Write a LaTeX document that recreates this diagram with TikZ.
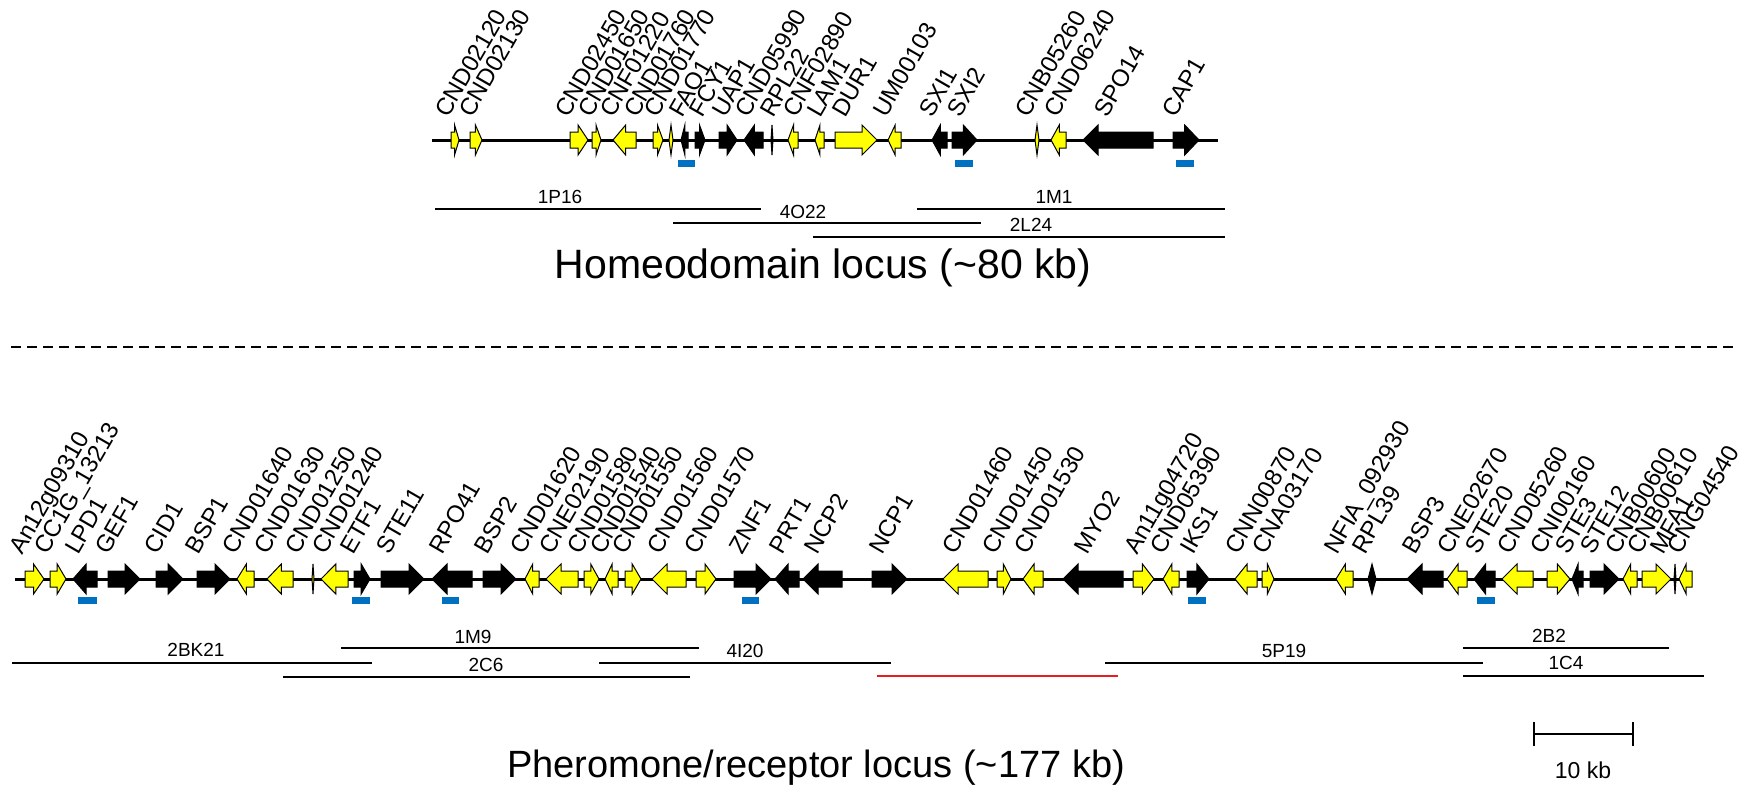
\documentclass[tikz,border=0pt]{standalone}
\usepackage{fontspec}
\setmainfont{Liberation Sans}
\usepackage{xcolor}
\usepackage{tikz}
\usetikzlibrary{positioning}
\definecolor{geneyellow}{RGB}{255,255,0}
\definecolor{probeblue}{RGB}{0,112,192}
\definecolor{linered}{RGB}{230,30,30}
\tikzset{
    ygene/.style = {fill=geneyellow, draw=black, line width=0.5pt},
    bgene/.style = {fill=black, draw=black, line width=0.5pt},
    glabel/.style = {rotate=60, anchor=base west, inner sep=0pt, font=\fontsize{12}{14}\selectfont},
    clabel/.style = {inner sep=0pt, font=\fontsize{9.5}{11}\selectfont},
    clone/.style = {line width=1pt},
    backbone/.style = {line width=1.5pt},
    probe/.style = {fill=probeblue, draw=none},
    locustitle/.style = {inner sep=0pt, font=\fontsize{20.5}{24}\selectfont},
}
% gene arrows: x1, x2, y of backbone, style
\newcommand{\rgene}[4]{%
  \pgfmathsetmacro{\headlen}{min(15,0.55*(#2-#1))}%
  \draw[#4] (#1,#3-8) -- (#2-\headlen,#3-8) -- (#2-\headlen,#3-15) -- (#2,#3)
     -- (#2-\headlen,#3+15) -- (#2-\headlen,#3+8) -- (#1,#3+8) -- cycle;}
\newcommand{\lgene}[4]{%
  \pgfmathsetmacro{\headlen}{min(15,0.55*(#2-#1))}%
  \draw[#4] (#2,#3-8) -- (#1+\headlen,#3-8) -- (#1+\headlen,#3-15) -- (#1,#3)
     -- (#1+\headlen,#3+15) -- (#1+\headlen,#3+8) -- (#2,#3+8) -- cycle;}
\newcommand{\tgene}[4]{%
  \draw[#4] (#1,#3) -- ({(#1+#2)/2},#3-15) -- (#2,#3) -- ({(#1+#2)/2},#3+15) -- cycle;}

\begin{document}
\begin{tikzpicture}[x=0.5pt, y=-0.5pt]
\useasboundingbox (0,0) rectangle (1751,800);
%
% homeodomain locus
\draw[backbone] (432,140) -- (1218,140);
\rgene{451}{459}{140}{ygene}
\rgene{470}{482}{140}{ygene}
\rgene{570}{588}{140}{ygene}
\rgene{592}{601}{140}{ygene}
\lgene{613}{636}{140}{ygene}
\rgene{653}{663}{140}{ygene}
\tgene{669}{673}{140}{ygene}
\lgene{681}{688}{140}{bgene}
\rgene{695}{705}{140}{bgene}
\rgene{719}{737}{140}{bgene}
\lgene{744}{763}{140}{bgene}
\tgene{771}{773}{140}{bgene}
\lgene{788}{798}{140}{ygene}
\lgene{815}{824}{140}{ygene}
\rgene{835}{877}{140}{ygene}
\lgene{888}{901}{140}{ygene}
\lgene{932}{947}{140}{bgene}
\rgene{952}{977}{140}{bgene}
\tgene{1035}{1039}{140}{ygene}
\lgene{1051}{1066}{140}{ygene}
\lgene{1083}{1153}{140}{bgene}
\rgene{1173}{1199}{140}{bgene}
%
\node[glabel] at (448,119) (h1) {CND02120};
\node[glabel] at (472,119) (h2) {CND02130};
\node[glabel] at (568,119) (h3) {CND02450};
\node[glabel] at (591,119) (h4) {CND01650};
\node[glabel] at (613,119) (h5) {CNF01220};
\node[glabel] at (637,119) (h6) {CND01760};
\node[glabel] at (657,119) (h7) {CND01770};
\node[glabel] at (682,119) (h8) {FAO1};
\node[glabel] at (702,119) (h9) {FCY1};
\node[glabel] at (725,119) (h10) {UAP1};
\node[glabel] at (748,119) (h11) {CND05990};
\node[glabel] at (773,119) (h12) {RPL22};
\node[glabel] at (796,119) (h13) {CNF02890};
\node[glabel] at (820,119) (h14) {LAM1};
\node[glabel] at (845,119) (h15) {DUR1};
\node[glabel] at (886,119) (h16) {UM00103};
\node[glabel] at (932,119) (h17) {SXI1};
\node[glabel] at (960,119) (h18) {SXI2};
\node[glabel] at (1028,119) (h19) {CNB05260};
\node[glabel] at (1057,119) (h20) {CND06240};
\node[glabel] at (1107,119) (h21) {SPO14};
\node[glabel] at (1175,119) (h22) {CAP1};
%
\path[probe] (678,160) rectangle (695,167);
\path[probe] (955,160) rectangle (973,167);
\path[probe] (1176,160) rectangle (1194,167);
%
\draw[clone] (435,209) -- (761,209);
\draw[clone] (673,223) -- (981,223);
\draw[clone] (917,209) -- (1225,209);
\draw[clone] (813,237) -- (1225,237);
\node[clabel] at (560,197) (c1p16) {1P16};
\node[clabel] at (803,212) (c4o22) {4O22};
\node[clabel] at (1054,197) (c1m1) {1M1};
\node[clabel] at (1031,225) (c2l24) {2L24};
%
\node[locustitle] at (823,268) (hd) {Homeodomain locus (\textasciitilde80 kb)};
%
\draw[dashed, dash pattern=on 5pt off 3pt, line width=0.75pt] (11,347) -- (1737,347);
%
% pheromone/receptor locus
\draw[backbone] (15,579) -- (1692,579);
\rgene{25}{44}{579}{ygene}
\rgene{50}{66}{579}{ygene}
\lgene{73}{97}{579}{bgene}
\rgene{108}{140}{579}{bgene}
\rgene{156}{183}{579}{bgene}
\rgene{197}{230}{579}{bgene}
\lgene{237}{254}{579}{ygene}
\lgene{267}{293}{579}{ygene}
\tgene{312}{314}{579}{ygene}
\lgene{321}{348}{579}{ygene}
\rgene{354}{370}{579}{bgene}
\rgene{381}{424}{579}{bgene}
\lgene{432}{472}{579}{bgene}
\rgene{483}{516}{579}{bgene}
\lgene{525}{539}{579}{ygene}
\lgene{546}{578}{579}{ygene}
\rgene{584}{599}{579}{ygene}
\lgene{605}{618}{579}{ygene}
\rgene{625}{641}{579}{ygene}
\lgene{652}{686}{579}{ygene}
\rgene{696}{716}{579}{ygene}
\rgene{734}{771}{579}{bgene}
\lgene{775}{799}{579}{bgene}
\lgene{803}{842}{579}{bgene}
\rgene{872}{907}{579}{bgene}
\lgene{943}{988}{579}{ygene}
\rgene{997}{1011}{579}{ygene}
\lgene{1023}{1043}{579}{ygene}
\lgene{1063}{1123}{579}{bgene}
\rgene{1133}{1154}{579}{ygene}
\lgene{1163}{1179}{579}{ygene}
\rgene{1187}{1209}{579}{bgene}
\lgene{1235}{1257}{579}{ygene}
\rgene{1262}{1274}{579}{ygene}
\lgene{1336}{1353}{579}{ygene}
\tgene{1368}{1376}{579}{bgene}
\lgene{1407}{1443}{579}{bgene}
\lgene{1447}{1467}{579}{ygene}
\lgene{1474}{1495}{579}{bgene}
\lgene{1502}{1533}{579}{ygene}
\rgene{1547}{1570}{579}{ygene}
\lgene{1572}{1583}{579}{bgene}
\rgene{1590}{1619}{579}{bgene}
\lgene{1623}{1637}{579}{ygene}
\rgene{1642}{1671}{579}{ygene}
\tgene{1674}{1676}{579}{bgene}
\lgene{1679}{1692}{579}{ygene}
%
\node[glabel] at (22,556) (p1) {An12g09310};
\node[glabel] at (47,556) (p2) {CC1G\_13213};
\node[glabel] at (78,556) (p3) {LPD1};
\node[glabel] at (108,556) (p4) {GEF1};
\node[glabel] at (157,556) (p5) {CID1};
\node[glabel] at (198,556) (p6) {BSP1};
\node[glabel] at (235,556) (p7) {CND01640};
\node[glabel] at (267,556) (p8) {CND01630};
\node[glabel] at (298,556) (p9) {CND01250};
\node[glabel] at (325,556) (p10) {CND01240};
\node[glabel] at (353,556) (p11) {ETF1};
\node[glabel] at (389,556) (p12) {STE11};
\node[glabel] at (442,556) (p13) {RPO41};
\node[glabel] at (487,556) (p14) {BSP2};
\node[glabel] at (523,556) (p15) {CND01620};
\node[glabel] at (552,556) (p16) {CNE02190};
\node[glabel] at (580,556) (p17) {CND01580};
\node[glabel] at (603,556) (p18) {CND01540};
\node[glabel] at (625,556) (p19) {CND01550};
\node[glabel] at (660,556) (p20) {CND01560};
\node[glabel] at (697,556) (p21) {CND01570};
\node[glabel] at (742,556) (p22) {ZNF1};
\node[glabel] at (782,556) (p23) {PRT1};
\node[glabel] at (817,556) (p24) {NCP2};
\node[glabel] at (882,556) (p25) {NCP1};
\node[glabel] at (955,556) (p26) {CND01460};
\node[glabel] at (995,556) (p27) {CND01450};
\node[glabel] at (1027,556) (p28) {CND01530};
\node[glabel] at (1087,556) (p29) {MYO2};
\node[glabel] at (1137,556) (p30) {An11g04720};
\node[glabel] at (1163,556) (p31) {CND05390};
\node[glabel] at (1193,556) (p32) {IKS1};
\node[glabel] at (1238,556) (p33) {CNN00870};
\node[glabel] at (1265,556) (p34) {CNA03170};
\node[glabel] at (1337,556) (p35) {NFIA\_092930};
\node[glabel] at (1365,556) (p36) {RPL39};
\node[glabel] at (1415,556) (p37) {BSP3};
\node[glabel] at (1450,556) (p38) {CNE02670};
\node[glabel] at (1478,556) (p39) {STE20};
\node[glabel] at (1510,556) (p40) {CND05260};
\node[glabel] at (1543,556) (p41) {CNI00160};
\node[glabel] at (1568,556) (p42) {STE3};
\node[glabel] at (1593,556) (p43) {STE12};
\node[glabel] at (1618,556) (p44) {CNB00600};
\node[glabel] at (1640,556) (p45) {CNB00610};
\node[glabel] at (1663,556) (p46) {MFA1};
\node[glabel] at (1680,556) (p47) {CNG04540};
%
\path[probe] (78,597) rectangle (97,604);
\path[probe] (352,597) rectangle (370,604);
\path[probe] (442,597) rectangle (459,604);
\path[probe] (742,597) rectangle (759,604);
\path[probe] (1188,597) rectangle (1206,604);
\path[probe] (1477,597) rectangle (1495,604);
%
\draw[clone] (12,663) -- (372,663);
\draw[clone] (341,648) -- (699,648);
\draw[clone] (283,677) -- (690,677);
\draw[clone] (599,663) -- (891,663);
\draw[clone, linered] (877,676) -- (1118,676);
\draw[clone] (1105,663) -- (1483,663);
\draw[clone] (1463,648) -- (1669,648);
\draw[clone] (1463,676) -- (1704,676);
\node[clabel] at (196,650) (c2bk21) {2BK21};
\node[clabel] at (473,637) (c1m9) {1M9};
\node[clabel] at (486,665) (c2c6) {2C6};
\node[clabel] at (745,651) (c4i20) {4I20};
\node[clabel] at (1284,651) (c5p19) {5P19};
\node[clabel] at (1549,636) (c2b2) {2B2};
\node[clabel] at (1566,663) (c1c4) {1C4};
%
% scale bar
\draw[line width=1pt] (1534,734) -- (1633,734);
\draw[line width=1pt] (1534,722) -- (1534,746);
\draw[line width=1pt] (1633,722) -- (1633,746);
\node[inner sep=0pt, font=\fontsize{11.5}{13}\selectfont] at (1583,770) (kb) {10 kb};
%
\node[locustitle, font=\fontsize{19}{22}\selectfont] at (816,768) (pr) {Pheromone/receptor locus (\textasciitilde177 kb)};
\end{tikzpicture}
\end{document}
